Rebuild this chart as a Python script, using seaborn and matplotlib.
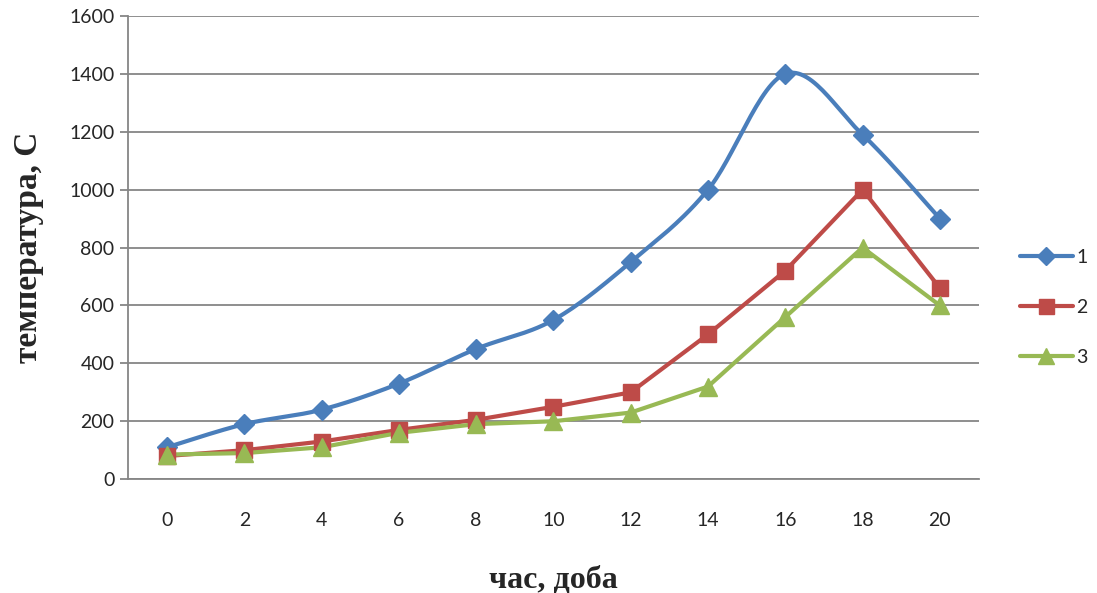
import numpy as np
import pandas as pd
import matplotlib
matplotlib.use("Agg")
import matplotlib.pyplot as plt
from matplotlib.lines import Line2D
import seaborn as sns

# дані з графіка
hours = [0, 2, 4, 6, 8, 10, 12, 14, 16, 18, 20]
series_1 = [110, 190, 240, 330, 450, 550, 750, 1000, 1400, 1190, 900]
series_2 = [80, 100, 130, 170, 205, 250, 300, 500, 720, 1000, 660]
series_3 = [85, 90, 110, 160, 190, 200, 230, 320, 560, 800, 600]
labels = ["1", "2", "3"]
y_ticks = [0, 200, 400, 600, 800, 1000, 1200, 1400, 1600]

colors = ["#4A7EBB", "#BE4B48", "#98B954"]
markers = ["D", "s", "^"]
msizes = [10, 12, 13]


def smooth_curve(xs, ys, n=30):
    # Excel-подібне згладжування (Bezier / Catmull-Rom)
    pts = np.column_stack([xs, ys]).astype(float)
    p = np.vstack([pts[0], pts, pts[-1]])
    out = []
    t = np.linspace(0, 1, n)[:, None]
    for i in range(1, len(p) - 2):
        p0, p1, p2, p3 = p[i - 1], p[i], p[i + 1], p[i + 2]
        b1 = p1 + (p2 - p0) / 6
        b2 = p2 - (p3 - p1) / 6
        seg = ((1 - t) ** 3) * p1 + 3 * ((1 - t) ** 2) * t * b1 + 3 * (1 - t) * t ** 2 * b2 + t ** 3 * p2
        out.append(seg if i == 1 else seg[1:])
    out = np.vstack(out)
    return out[:, 0], out[:, 1]


sns.set_style("white")
plt.rcParams['font.family'] = ['Lato', 'DejaVu Sans']

fig = plt.figure(figsize=(10.97, 5.93), dpi=100)
ax = fig.add_axes([0.117, 0.192, 0.775, 0.781])

pos = np.arange(len(hours))
df = pd.DataFrame({
    "pos": np.tile(pos, 3),
    "value": series_1 + series_2 + series_3,
    "series": np.repeat(labels, len(hours)),
})

# серія 1 - згладжена лінія
sx, sy = smooth_curve(pos, series_1)
ax.plot(sx, sy, color=colors[0], lw=3, zorder=3, solid_capstyle="round")

# серії 2, 3 - прямі лінії
for lab, c in zip(labels[1:], colors[1:]):
    sns.lineplot(data=df[df.series == lab], x="pos", y="value", color=c,
                 lw=3, ax=ax, zorder=3, legend=False)

for lab, c, m, ms in zip(labels, colors, markers, msizes):
    d = df[df.series == lab]
    ax.plot(d.pos, d.value, linestyle="none", marker=m, markersize=ms,
            color=c, markeredgecolor=c, zorder=4)

ax.set_xlim(-0.5, len(hours) - 0.5)
ax.set_ylim(0, 1600)
ax.set_yticks(y_ticks)
ax.set_yticklabels([str(v) for v in y_ticks], fontsize=14)
ax.set_xticks(pos)
ax.set_xticklabels([str(h) for h in hours], fontsize=14)
ax.set_xticks(np.arange(-0.5, len(hours)), minor=True)
ax.tick_params(axis="x", which="major", length=0, pad=24)
ax.tick_params(axis="x", which="minor", length=6, width=1.3, color="#868686", direction="out")
ax.tick_params(axis="y", which="major", length=6, width=1.3, color="#868686", direction="out", left=True, pad=4)

ax.grid(axis="y", color="#868686", lw=1.3)
ax.grid(axis="x", visible=False)
for s in ["top", "right"]:
    ax.spines[s].set_visible(False)
for s in ["left", "bottom"]:
    ax.spines[s].set_color("#868686")
    ax.spines[s].set_linewidth(1.3)

ax.set_xlabel("час, доба", fontsize=23, fontweight="bold",
              family=["Liberation Serif", "DejaVu Serif"], labelpad=26)
ax.set_ylabel("температура, С", fontsize=24, fontweight="bold",
              family=["Liberation Serif", "DejaVu Serif"], labelpad=18)

handles = [Line2D([0], [0], color=c, lw=3, marker=m, markersize=ms * 0.9,
                  markeredgecolor=c) for c, m, ms in zip(colors, markers, msizes)]
fig.legend(handles, labels, loc="center left", bbox_to_anchor=(0.93, 0.482),
           frameon=False, fontsize=14, handlelength=2.7, labelspacing=1.7,
           handletextpad=0.2, borderaxespad=0, borderpad=0)

fig.savefig("out.png", dpi=100)
